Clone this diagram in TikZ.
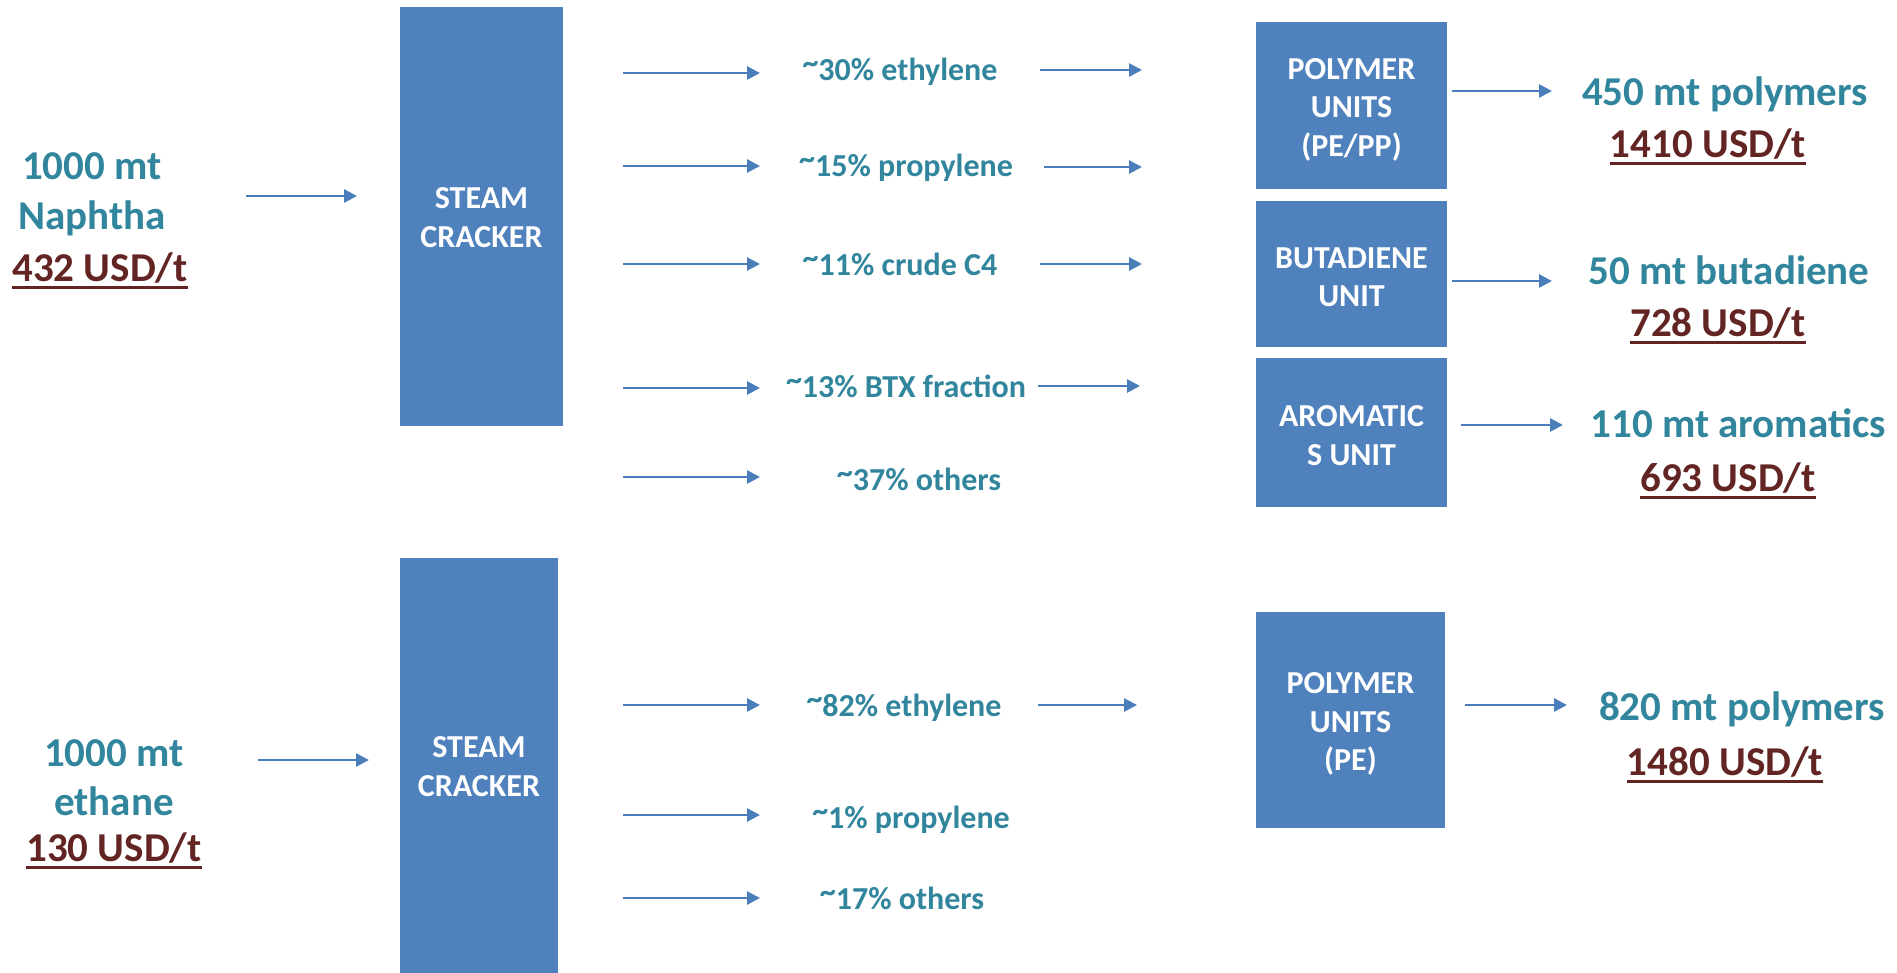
\documentclass[tikz,border=0pt]{standalone}
\usepackage{fontspec}
\setmainfont{Carlito}
\usetikzlibrary{arrows.meta}

\definecolor{tealtxt}{HTML}{31859C}
\definecolor{pricetxt}{HTML}{632523}
\definecolor{unitfill}{HTML}{4F81BD}
\definecolor{flowcol}{HTML}{4A7EBB}

% price text with a thick underline in the text colour
\newcommand\pricerule[1]{\setbox0\hbox{#1}\rlap{\rule[-0.19em]{\wd0}{0.07em}}\box0}
% "approximately" sign set high, as in the yield labels
\newcommand\approxmark{\raisebox{0.2em}{\textasciitilde}}

\begin{document}
\begin{tikzpicture}[x=1pt,y=-1pt,
  big/.style={font=\fontsize{41}{51}\selectfont\bfseries, text=tealtxt,
              text height=0.64em, text depth=0pt, inner sep=0pt},
  price/.style={big, text=pricetxt},
  frac/.style={font=\fontsize{32}{38}\selectfont\bfseries, text=tealtxt,
               text height=0.64em, text depth=0pt, inner sep=0pt},
  unitbox/.style={fill=unitfill, inner sep=0pt},
  unittext/.style={text=white, align=center, inner sep=0pt,
                   font=\fontsize{32}{38.5}\selectfont\bfseries},
  flow/.style={draw=flowcol, line width=2.7pt, -{Triangle[length=13pt,width=13pt]}}]

\useasboundingbox (0,0) rectangle (1897,973);

% ---------------- naphtha route ----------------
\node[big]   (nin1) at (92,176)  {1000 mt};
\node[big]   (nin2) at (92,226)  {Naphtha};
\node[price] (nin3) at (100,278) {\pricerule{432 USD/t}};

\node[unitbox, minimum width=163pt, minimum height=419pt] (sc1) at (481.5,216.5) {};
\node[unittext] (sc1t) at ([yshift=-1pt]sc1.center) {STEAM\\CRACKER};

\node[frac] (p1) at (900,77)  {\approxmark30\% ethylene};
\node[frac] (p2) at (906,173) {\approxmark15\% propylene};
\node[frac] (p3) at (900,272) {\approxmark11\% crude C4};
\node[frac] (p4) at (906,394) {\approxmark13\% BTX fraction};
\node[frac] (p5) at (919,487) {\approxmark37\% others};

\node[unitbox, minimum width=191pt, minimum height=167pt] (poly1) at (1351.5,105.5) {};
\node[unittext] (poly1t) at ([yshift=-4pt]poly1.center) {POLYMER\\UNITS\\(PE/PP)};
\node[unitbox, minimum width=191pt, minimum height=146pt] (buta) at (1351.5,274) {};
\node[unittext] (butat) at ([yshift=-3pt]buta.center) {BUTADIENE\\UNIT};
\node[unitbox, minimum width=191pt, minimum height=149pt] (arom) at (1351.5,432.5) {};
\node[unittext] (aromt) at ([yshift=-3pt]arom.center) {AROMATIC\\S UNIT};

\node[big]   (o1a) at (1725,102) {450 mt polymers};
\node[price] (o1b) at (1708,154) {\pricerule{1410 USD/t}};
\node[big]   (o2a) at (1729,281) {50 mt butadiene};
\node[price] (o2b) at (1718,333) {\pricerule{728 USD/t}};
\node[big]   (o3a) at (1738,434) {110 mt aromatics};
\node[price] (o3b) at (1728,488) {\pricerule{693 USD/t}};

% ---------------- ethane route ----------------
\node[big]   (ein1) at (114,763) {1000 mt};
\node[big]   (ein2) at (114,812) {ethane};
\node[price] (ein3) at (114,858) {\pricerule{130 USD/t}};

\node[unitbox, minimum width=158pt, minimum height=415pt] (sc2) at (479,765.5) {};
\node[unittext] (sc2t) at ([yshift=-1pt]sc2.center) {STEAM\\CRACKER};

\node[frac] (q1) at (904,713) {\approxmark82\% ethylene};
\node[frac] (q2) at (911,825) {\approxmark1\% propylene};
\node[frac] (q3) at (902,906) {\approxmark17\% others};

\node[unitbox, minimum width=189pt, minimum height=216pt] (poly2) at (1350.5,720) {};
\node[unittext] (poly2t) at ([yshift=-4pt]poly2.center) {POLYMER\\UNITS\\(PE)};

\node[big]   (o4a) at (1742,717) {820 mt polymers};
\node[price] (o4b) at (1725,772) {\pricerule{1480 USD/t}};

% ---------------- flow arrows ----------------
\foreach \n/\xa/\xb/\y in {
    fa/246/357/196,
    fb/623/760/73, fc/623/760/166, fd/623/760/264, fe/623/760/388, ff/623/760/477,
    fg/1040/1142/70, fh/1044/1142/167, fi/1040/1142/264, fj/1038/1140/386,
    fk/1452/1552/91, fl/1452/1552/281, fm/1461/1563/425,
    ga/258/369/760,
    gb/623/760/705, gc/623/760/815, gd/623/760/898,
    ge/1038/1137/705,
    gf/1465/1567/705} {
  \coordinate (\n s) at (\xa,\y);
  \coordinate (\n e) at (\xb,\y);
  \draw[flow] (\n s) -- (\n e);
}
\end{tikzpicture}
\end{document}
